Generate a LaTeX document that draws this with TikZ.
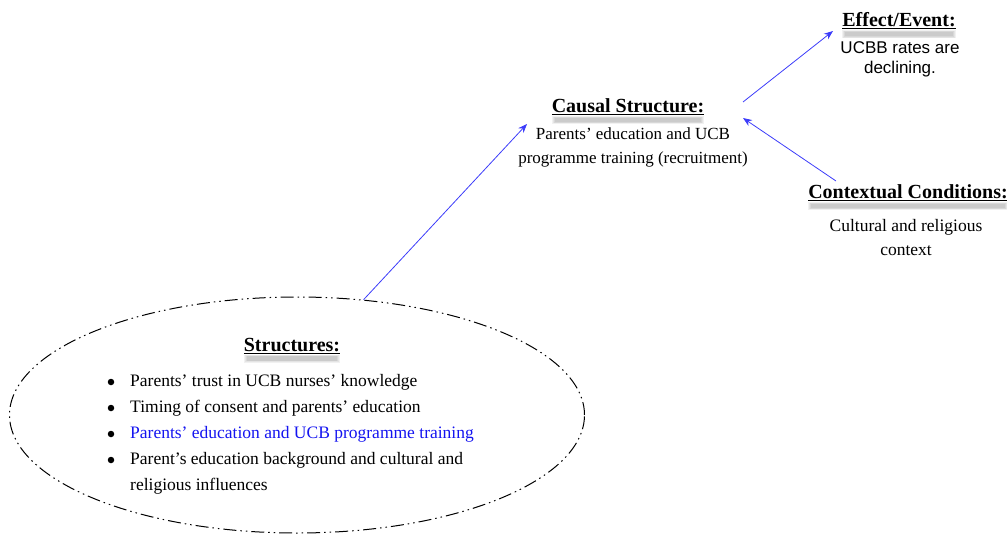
\documentclass[tikz,border=0pt]{standalone}
\usepackage{fontspec}
\setmainfont{Liberation Serif}
\newfontfamily\bodysans{Liberation Sans}
\usetikzlibrary{shapes.geometric,arrows.meta}
\definecolor{linkblue}{RGB}{60,60,250}
\definecolor{itemblue}{RGB}{20,20,240}
\tikzset{
  heading/.style={font=\fontsize{20}{22}\selectfont\bfseries, inner sep=0pt},
  body/.style={font=\fontsize{17}{24}\selectfont, align=center, inner sep=0pt},
  link/.style={draw=linkblue, line width=0.8pt, -{Stealth[length=9pt,width=7pt]}},
  bulletline/.style={font=\fontsize{17.5}{26}\selectfont, anchor=west, inner sep=0pt},
  bulletdot/.style={circle, fill=black, inner sep=0pt, minimum size=6.5pt}
}
% heading with a soft grey shadow beneath it
\newcommand{\shadowhead}[3]{%
  \node[heading] (#1) at (#2) {\underline{#3}};
  \foreach \s in {0,1,2,3}{
    \fill[black, opacity=0.055]
      ([xshift=\s pt, yshift=-1pt-\s pt*0.5]#1.south west) rectangle
      ([xshift=-\s pt, yshift=-9pt+\s pt*0.8]#1.south east);
  }
}
\begin{document}
\begin{tikzpicture}[x=1pt,y=-1pt]
\useasboundingbox (0,0) rectangle (1007,535);

% structures ellipse
\node[ellipse, draw, line width=1pt, dash pattern=on 13pt off 4pt on 1.5pt off 4pt on 1.5pt off 4pt,
      minimum width=575pt, minimum height=236pt, inner sep=0pt] (ell) at (297,415) {};

\shadowhead{structT}{292,346}{Structures:}
\foreach \i/\t/\c in {0/{Parents’ trust in UCB nurses’ knowledge}/black,
                      1/{Timing of consent and parents’ education}/black,
                      2/{Parents’ education and UCB programme training}/itemblue,
                      3/{Parent’s education background and cultural and}/black}{
  \node[bulletdot] (b\i) at (111,382+26*\i) {};
  \node[bulletline, text=\c] (t\i) at (130,382+26*\i) {\t};
}
\node[bulletline] (t4) at (130,486) {religious influences};

% causal structure
\shadowhead{causalT}{628,107}{Causal Structure:}
\node[body, anchor=north] (causalB) at (633,128) {Parents’ education and UCB\\programme training (recruitment)};

% effect / event
\shadowhead{effectT}{899,21}{Effect/Event:}
\node[font=\bodysans\fontsize{17}{20}\selectfont, align=center, inner sep=0pt, anchor=north] (effectB) at (900,41)
  {UCBB rates are\\ declining.};

% contextual conditions
\shadowhead{contextT}{908,193}{Contextual Conditions:}
\node[font=\fontsize{17.5}{24}\selectfont, align=center, inner sep=0pt, anchor=north] (contextB) at (906,219) {Cultural and religious\\context};

% arrow end points
\coordinate (causalIn) at (527,124);
\coordinate (causalOut) at (743,102);
\coordinate (causalIn2) at (743,118);
\coordinate (effectIn) at (833,31);
\coordinate (contextOut) at (836,181);

\draw[link] (ell.60.5) -- (causalIn);
\draw[link] (causalOut) -- (effectIn);
\draw[link] (contextOut) -- (causalIn2);
\end{tikzpicture}
\end{document}
